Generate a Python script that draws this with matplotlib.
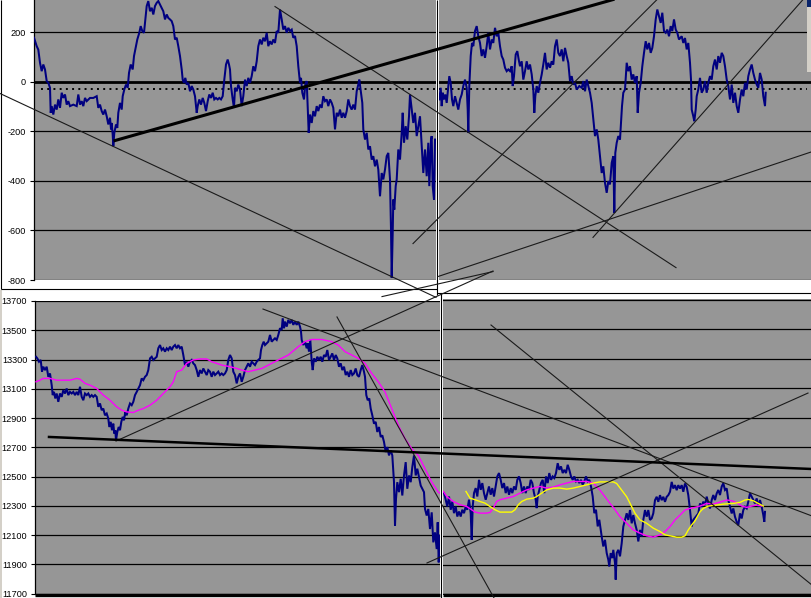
import matplotlib
matplotlib.use("Agg")
import matplotlib.pyplot as plt
from matplotlib.patches import Rectangle

plt.rcParams['font.family'] = ['Liberation Sans', 'DejaVu Sans']

W, H = 812, 598

# ------------------------------------------------------------------ data
# (time index, value) pairs
top_left = [
    (34.0,178),(36.7,144),(38.3,130),(40.0,77),(41.7,43),(43.3,70),(45.0,50),(46.7,3),(48.3,-4),(50.0,-24),
    (50.7,-125),(51.7,-98),(53.3,-132),(55.0,-92),(56.7,-112),(58.3,-71),(60.0,-105),(61.7,-44),(63.3,-65),(65.0,-51),
    (66.7,-92),(68.3,-78),(70.0,-98),(73.3,-92),(76.7,-98),(78.3,-51),(80.0,-92),(81.7,-78),(83.3,-98),(85.0,-65),
    (86.7,-78),(90.0,-65),(93.3,-65),(96.7,-58),(98.3,-105),(100.0,-92),(101.7,-118),(103.3,-132),(105.0,-112),(106.7,-139),
    (108.3,-172),(110.0,-145),(111.0,-192),(111.7,-166),(112.7,-213),(113.3,-260),(114.3,-206),(116.0,-172),(117.3,-186),(118.3,-125),
    (120.0,-85),(121.7,-112),(122.7,-58),(124.3,-31),(126.0,-11),(127.7,-24),(129.0,36),(130.7,70),(132.7,50),(134.0,104),
    (136.0,144),(137.3,171),(139.3,198),(140.7,225),(142.3,205),(144.0,198),(145.3,252),(146.7,306),(148.3,326),(150.0,285),
    (151.7,299),(153.3,272),(155.0,306),(156.7,319),(158.3,326),(160.0,312),(161.7,299),(163.3,285),(165.0,252),(166.7,272),
    (168.3,258),(170.0,252),(171.7,245),(173.3,225),(175.0,171),(176.7,178),(178.3,144),(180.0,104),(181.7,50),(182.7,9),
    (184.0,-4),(185.3,16),(186.7,-11),(188.3,-4),(190.0,-38),(191.7,-17),(193.3,-31),(195.0,-58),(196.7,-125),(197.7,-98),
    (199.3,-71),(201.0,-92),(202.7,-65),(204.3,-85),(206.0,-118),(207.7,-78),(209.3,-51),(211.0,-65),(212.7,-44),(214.3,-71),
    (216.0,-65),(217.7,-71),(219.3,-65),(221.0,-71),(222.7,-58),(224.3,9),(226.0,70),(227.7,90),(229.0,70),(230.0,50),
    (231.0,-17),(232.7,-71),(234.0,-105),
    (235.0,-24),(236.7,-38),(238.3,-11),(240.0,-31),(241.7,-98),(243.3,-58),(245.0,9),(246.7,-17),(248.3,16),(250.0,-4),
    (251.7,23),(253.3,63),(255.0,43),(256.7,83),(258.3,144),(260.0,171),(261.7,151),(263.3,178),(265.0,164),(266.7,198),
    (268.3,144),(270.0,164),(271.7,151),(273.3,171),(275.0,157),(276.7,205),(278.3,198),(280.0,292),(281.7,252),(283.3,211),
    (285.0,225),(286.7,198),(288.3,218),(290.0,205),(291.7,211),(293.3,178),(295.0,185),(296.7,144),(298.3,63),(300.0,-4),
    (301.0,16),(302.3,-44),(304.0,-71),(305.3,-11),(306.7,3),(307.7,-98),(308.7,-206),(310.0,-132),(311.7,-166),(313.3,-118),
    (315.0,-139),(316.7,-98),(318.3,-118),(320.0,-92),(321.7,-105),(323.3,-58),(325.0,-78),(326.7,-71),(328.3,-98),(330.0,-71),
    (331.7,-85),(333.3,-105),(335.0,-192),(336.7,-125),(338.3,-139),(340.0,-112),(341.7,-145),(343.3,-125),(345.0,-145),(346.7,-118),
    (348.3,-71),(350.0,-98),(351.7,-112),(353.3,-92),(355.0,-112),(356.7,-38),(358.3,-11),(359.3,9),(361.0,-44),(362.3,-85),
    (363.3,-192),(365.0,-233),(366.7,-206),(368.3,-273),(370.0,-260),(371.7,-314),(373.3,-300),(375.0,-341),(376.7,-314),(378.3,-354),
    (380.0,-462),(381.7,-368),(383.3,-394),(385.0,-354),(386.7,-300),(388.3,-287),(390.0,-394),(391.0,-596),(391.7,-791),(392.7,-610),
    (393.3,-475),(394.3,-516),(395.7,-421),(396.7,-394),(398.3,-273),(400.0,-314),(401.7,-206),(402.7,-125),(404.0,-246),(405.7,-179),
    (407.3,-233),(409.0,-139),(410.0,-51),(411.7,-112),(413.3,-166),(415.0,-125),(416.7,-219),(418.3,-179),(420.0,-139),(421.7,-260),
    (423.3,-368),(425.0,-273),(426.7,-381),(428.3,-246),(429.3,-421),(431.0,-233),(431.7,-219),(432.7,-421),(434.0,-475),(435.0,-233),
]

top_right = [
    (439.3,-71),(440.7,-24),(441.7,-98),(442.7,-44),(444.0,-71),(445.3,-51),(446.7,-85),(448.3,-17),(449.3,23),(450.7,-4),
    (452.0,-71),(453.3,-98),(455.0,-58),(456.7,-85),(458.3,-112),(460.0,-71),(461.7,-51),(463.3,-17),(465.0,9),(466.7,-24),
    (467.7,-112),(468.3,-206),(469.3,-17),(470.7,104),(472.0,157),(473.3,144),(475.0,205),(476.7,225),(478.3,184),(480.0,157),
    (481.7,104),(483.3,131),(485.0,97),(486.7,144),(488.3,198),(490.0,131),(491.7,171),(493.3,157),(495.0,218),(496.7,184),
    (498.3,198),(500.0,144),(501.7,104),(503.3,90),(505.0,57),(506.7,43),(508.3,50),(510.0,43),(511.7,63),(512.7,-17),
    (514.0,23),(515.7,110),(517.3,124),(518.7,90),(520.0,63),(521.7,83),(523.3,9),(525.0,43),(526.7,83),(528.3,50),
    (530.0,70),(531.7,30),(533.3,-31),(534.3,-125),(535.3,-58),(536.7,-17),(538.3,-44),(540.0,-4),(541.7,30),(543.3,70),
    (545.0,117),(546.7,50),(548.3,77),(550.0,57),(551.7,83),(553.3,70),(555.0,144),(556.7,171),(558.3,117),(560.0,104),
    (561.7,131),(563.3,83),(565.0,137),(566.7,104),(568.3,77),(570.0,3),(571.7,23),(573.3,-11),(575.0,-4),(576.7,-31),
    (579.3,-17),
    (581.7,-24),(583.3,3),(585.0,-38),(586.7,9),(588.3,-17),(590.0,-44),(591.7,-85),(592.7,-125),(594.0,-179),(595.0,-219),
    (596.7,-192),(598.3,-233),(600.0,-300),(601.7,-368),(603.3,-341),(605.0,-408),(606.7,-448),(608.3,-401),(610.0,-414),(611.7,-327),
    (613.3,-300),(614.3,-529),(615.3,-287),(616.7,-246),(618.3,-219),(620.0,-233),(621.0,-166),(622.0,-98),(623.3,-44),(625.0,-31),
    (626.7,77),(628.3,43),(630.0,63),(631.7,9),(633.3,30),(635.0,-4),(636.7,23),(637.7,-125),(639.0,-44),(640.7,-4),
    (642.3,63),(644.0,117),(645.7,164),(647.3,131),(649.0,157),(650.7,117),(652.3,137),(654.0,184),(655.7,252),(657.3,292),
    (659.0,265),(660.7,238),(662.3,279),(664.0,205),(665.7,198),(667.3,211),(669.0,184),(670.7,225),(672.3,205),(674.0,252),
    (675.7,211),(677.3,198),(679.0,171),
    (681.7,184),(683.3,157),(685.0,177),(686.7,131),(688.3,157),(690.0,77),(691.0,9),(691.7,-112),(693.3,-139),(694.3,-159),
    (695.7,-112),(696.7,-58),(698.3,-31),(700.0,16),(701.7,-44),(703.3,-31),(705.0,3),(706.7,-44),(708.3,-4),(710.0,23),
    (711.7,9),(713.3,63),(715.0,90),(716.7,50),(718.3,104),(720.0,77),(721.7,117),(723.3,104),(725.0,63),(726.7,9),
    (728.3,-17),(730.0,-71),(731.7,-11),(733.3,-85),(735.0,-44),(736.7,-98),(738.3,-125),(740.0,-71),(741.7,-31),(743.3,-58),
    (745.0,-4),(746.7,-31),(748.3,23),(750.0,50),(751.7,70),(753.3,36),(755.0,9),(756.7,-11),(758.3,-24),(760.0,36),
    (761.7,9),(763.3,-58),(765.0,-98),(765.7,-44),
]

bottom_left = [
    (36.0,13319),(37.3,13308),(39.0,13285),(40.7,13297),(42.0,13217),(43.3,13251),(45.0,13228),(46.7,13251),(48.3,13182),(50.0,13205),
    (51.7,13125),(52.7,13057),(54.0,13079),(55.3,13034),(56.7,13068),(58.3,13011),(60.0,13068),(61.7,13045),(63.3,13091),(65.0,13068),
    (66.7,13102),(68.3,13057),(70.0,13079),(71.7,13068),(73.3,13079),(75.0,13057),(76.7,13079),(78.3,13057),(80.0,13114),(81.7,13045),
    (83.3,13022),(85.0,13068),(86.7,13057),(88.3,13068),(90.0,13045),(91.7,13057),(93.3,13045),(95.0,13057),(96.7,13045),(98.3,12977),
    (100.0,13000),(101.7,12954),(103.3,12965),(105.0,12919),(106.7,12931),(108.3,12897),(109.3,12839),(110.7,12874),(112.0,12817),(113.3,12862),
    (114.3,12794),(115.3,12817),(116.0,12748),(117.3,12805),(118.7,12839),(120.0,12817),(121.3,12874),(122.7,12908),(124.0,12885),(125.3,12942),
    (126.7,12919),(128.3,12965),(130.0,13000),(131.7,12988),(133.3,13011),(135.0,13057),(136.7,13079),(138.3,13102),(140.0,13125),(141.7,13171),
    (143.3,13159),(145.0,13182),(146.7,13194),(148.3,13228),(150.0,13308),(151.7,13319),(153.3,13297),(155.0,13308),(156.7,13319),(158.3,13377),
    (160.0,13399),(161.7,13365),(163.3,13377),(165.0,13354),(166.7,13377),(168.3,13365),(170.0,13388),(171.7,13365),(173.3,13388),(175.0,13399),
    (176.7,13377),(178.3,13399),(180.0,13377),(181.7,13388),(183.3,13331),(185.0,13262),(186.7,13285),(188.3,13251),(190.0,13285),(191.7,13297),
    (193.3,13274),(195.0,13262),(196.7,13228),(198.3,13182),(200.0,13228),(201.7,13205),(203.3,13239),(205.0,13217),(206.7,13194),(208.3,13228),
    (210.0,13217),(211.7,13182),(213.3,13217),(215.0,13194),(216.7,13205),(218.3,13217),(220.0,13194),(221.7,13205),(223.3,13194),(225.0,13205),
    (226.7,13228),(228.3,13297),(230.0,13331),(231.7,13308),(233.3,13217),(235.0,13194),(236.7,13137),(238.3,13182),(240.0,13205),
    (241.7,13148),(243.3,13182),(245.0,13228),(246.7,13251),(248.3,13274),(250.0,13251),(251.7,13285),(253.3,13274),(255.0,13262),(256.7,13285),
    (258.3,13297),(260.0,13308),(261.0,13365),(262.3,13399),(263.7,13422),(265.0,13399),(266.7,13411),(268.3,13422),(270.0,13468),(271.7,13422),
    (273.3,13434),(275.0,13445),(276.7,13434),(278.3,13468),(280.0,13514),(281.7,13502),(282.7,13582),(284.0,13514),(285.0,13559),(286.7,13525),
    (288.3,13571),(290.0,13548),(291.7,13571),(293.3,13537),(295.0,13559),(296.7,13537),(298.3,13559),(300.0,13525),(301.0,13491),(301.7,13434),
    (303.3,13399),(305.0,13422),(306.7,13377),(307.7,13411),(309.0,13354),(310.3,13434),(311.7,13285),(312.7,13228),(314.0,13308),(315.7,13285),
    (317.3,13319),(319.0,13297),(320.7,13319),(322.3,13285),(324.0,13331),(325.7,13319),(327.3,13365),(329.0,13297),(330.7,13319),(332.3,13342),
    (334.0,13297),(335.7,13331),(337.3,13308),(339.0,13251),(340.7,13274),(342.3,13228),(344.0,13251),(345.7,13194),(347.3,13217),(349.0,13182),
    (350.7,13228),(352.3,13194),(354.0,13205),(355.7,13239),(357.3,13194),(359.0,13182),(360.7,13228),(362.3,13262),(364.0,13217),(365.0,13182),
    (366.3,13057),(367.7,13022),(369.3,13034),(370.7,12965),(372.3,12919),(374.0,12862),(375.7,12874),(377.3,12805),(379.0,12839),(380.7,12771),
    (382.3,12782),(384.0,12737),(385.7,12668),(387.3,12702),(389.0,12645),(390.7,12679),(392.3,12645),(394.0,12462),(395.0,12165),(396.0,12348),
    (397.3,12462),(399.0,12394),(400.7,12485),(402.3,12371),(404.0,12508),(405.7,12599),(407.3,12417),(409.0,12508),(410.7,12462),(412.3,12565),
    (414.0,12645),(415.7,12508),(417.3,12554),(419.0,12497),(420.7,12439),(422.3,12417),(424.0,12394),(425.0,12279),(426.7,12234),(428.3,12279),
    (430.0,12142),(431.7,12256),(433.3,12051),(435.0,12119),(436.7,12005),(437.7,12188),(438.7,11914),(439.7,12097),
]

bottom_left_avg = [
    (36.0,13148),(40.0,13159),(43.3,13171),(50.0,13171),(56.7,13159),(63.3,13159),(70.0,13159),(76.7,13171),(80.0,13166),(85.0,13137),
    (90.0,13125),(96.7,13102),(100.0,13079),(103.3,13057),(110.0,13022),(116.7,12977),(121.7,12954),(126.7,12942),(133.3,12938),(138.3,12954),
    (143.3,12965),(150.0,12988),(156.7,13022),(163.3,13068),(166.7,13091),(170.0,13114),(173.3,13148),(176.7,13217),(181.7,13228),(186.7,13274),
    (193.3,13297),(200.0,13304),(206.7,13304),(211.7,13285),(216.7,13274),(221.7,13262),(230.0,13251),(236.7,13239),(241.7,13228),(248.3,13217),
    (255.0,13228),(261.7,13239),(268.3,13262),(278.3,13297),(288.3,13331),(298.3,13388),(305.0,13422),(311.7,13437),(321.7,13437),(331.7,13422),
    (338.3,13399),(345.0,13354),(351.7,13331),(358.3,13308),(365.0,13274),(371.7,13205),(378.3,13148),(385.0,13079),(391.7,12965),(398.3,12851),
    (405.0,12760),(411.7,12691),(418.3,12645),(425.0,12554),(431.7,12462),(438.3,12394),(443.3,12371),
]

bottom_right = [
    (444.0,12388),(445.7,12343),(447.3,12297),(449.0,12365),(450.7,12275),(452.3,12331),(454.0,12252),(455.7,12297),(457.3,12229),(459.0,12263),
    (460.7,12229),(462.3,12275),(464.0,12252),(465.7,12297),(467.3,12275),(469.0,12343),(470.7,12252),(471.7,12071),(472.7,12297),(474.0,12388),
    (475.7,12422),(477.3,12365),(479.0,12478),(480.7,12410),(482.3,12456),(484.0,12388),(485.7,12343),(487.3,12388),(489.0,12433),(490.7,12377),
    (492.3,12422),(494.0,12365),(495.7,12433),(497.3,12501),(499.0,12524),(500.7,12478),(502.3,12422),(504.0,12456),(505.7,12388),(507.3,12433),
    (509.0,12377),(510.7,12422),(512.3,12388),(514.0,12433),(515.7,12410),(517.3,12478),(519.0,12501),(520.7,12456),(522.3,12388),(524.0,12433),
    (525.7,12388),(527.3,12433),(529.0,12410),(530.7,12478),(532.3,12456),(534.0,12388),(535.7,12343),(536.7,12286),(537.7,12365),(539.3,12410),
    (541.0,12456),(542.7,12478),(544.3,12388),(546.0,12501),(547.7,12456),(549.3,12524),(551.0,12478),(552.7,12501),(554.3,12490),(556.0,12524),
    (557.7,12591),(559.3,12546),(561.0,12569),(562.7,12524),(564.3,12546),(566.0,12524),(567.7,12580),(569.3,12546),(571.0,12501),(572.7,12478),
    (574.3,12501),(576.0,12467),(577.7,12478),(579.3,12456),(581.0,12478),(582.7,12444),(584.3,12467),(586.0,12501),(587.7,12467),(589.3,12478),
    (591.0,12433),(592.7,12365),(594.3,12252),(596.0,12275),(597.7,12162),(599.3,12207),
    (601.7,12093),(603.3,12026),(605.0,12071),(606.7,11981),(608.3,11936),(609.3,11891),(610.7,11981),(612.3,11947),(613.3,12003),(615.0,11914),
    (615.7,11801),(616.7,11981),(618.3,12003),(620.0,11959),(621.7,12048),(623.3,12161),(625.0,12206),(626.7,12251),(628.3,12206),(630.0,12273),
    (631.7,12183),(633.3,12239),(635.0,12183),(636.7,12138),(638.3,12060),(640.0,12138),(641.7,12093),(643.3,12206),(645.0,12273),(646.7,12228),
    (648.3,12273),(650.0,12206),(651.7,12217),(653.3,12251),(655.0,12340),(656.7,12363),(658.3,12329),(660.0,12374),(661.7,12340),(663.3,12363),
    (665.0,12329),(666.7,12363),(668.3,12374),(670.0,12397),(671.7,12464),(673.3,12419),(675.0,12442),(676.7,12408),(678.3,12442),(680.0,12419),
    (681.7,12442),(683.3,12397),(685.0,12453),(686.7,12430),(688.3,12374),(690.0,12273),(691.7,12161),(693.3,12206),
    (698.3,12250),(700.0,12318),(701.7,12295),(703.3,12330),(705.0,12307),(706.7,12364),(708.3,12318),(710.0,12284),(711.7,12341),(713.3,12375),
    (715.0,12341),(716.7,12386),(718.3,12409),(720.0,12375),(721.7,12432),(723.3,12455),(725.0,12409),(726.7,12420),(728.3,12341),(730.0,12295),
    (731.7,12250),(733.3,12284),(735.0,12227),(736.7,12193),(738.3,12170),(740.0,12250),(741.7,12216),(743.3,12273),(745.0,12295),(746.7,12284),
    (748.3,12330),(750.0,12386),(751.7,12364),(753.3,12341),(755.0,12318),(756.7,12352),(758.3,12295),(760.0,12341),(761.7,12295),(763.3,12239),
    (764.3,12193),(765.0,12261),
]

bottom_right_avg = [
    (443.3,12399),(446.7,12365),(453.3,12331),(460.0,12309),(466.7,12297),(471.7,12275),(475.0,12259),(480.0,12252),(486.7,12252),(490.0,12257),
    (493.3,12286),(496.7,12331),(500.0,12343),(506.7,12354),(513.3,12365),(520.0,12388),(526.7,12410),(533.3,12422),(540.0,12433),(546.7,12422),
    (553.3,12429),(560.0,12444),(566.7,12456),(573.3,12467),(580.0,12467),(586.7,12467),(593.3,12456),(600.0,12408),(605.0,12363),(610.0,12318),
    (613.3,12291),(620.0,12228),(626.7,12183),(633.3,12138),(640.0,12116),(646.7,12098),(653.3,12089),(660.0,12105),(665.0,12127),(670.0,12161),
    (675.0,12206),(680.0,12239),(685.0,12273),(690.0,12284),(695.0,12291),(700.0,12300),(706.7,12318),(713.3,12314),(720.0,12327),(726.7,12341),
    (731.7,12336),(736.7,12323),(741.7,12300),(746.7,12291),(751.7,12300),(756.7,12307),(761.7,12300),
]

bottom_right_avg2 = [
    (466.0,12399),(470.0,12354),(475.0,12343),(480.0,12331),(485.0,12320),(490.0,12297),(495.0,12275),(500.0,12259),(506.7,12259),(511.7,12259),
    (515.0,12275),(518.3,12309),(521.7,12331),(526.7,12347),(533.3,12354),(536.7,12365),(541.7,12388),(546.7,12410),(553.3,12422),(560.0,12422),
    (566.7,12415),(573.3,12422),(580.0,12433),(586.7,12444),(593.3,12456),(600.0,12464),(606.7,12464),(613.3,12464),(616.7,12453),(621.7,12408),
    (626.7,12363),(631.7,12296),(635.0,12251),(640.0,12206),(646.7,12183),(653.3,12150),(660.0,12127),(665.0,12105),(670.0,12098),(676.7,12089),
    (681.7,12089),(685.0,12098),(688.3,12138),(691.7,12172),(695.0,12200),(700.0,12261),(703.3,12284),(708.3,12300),(716.7,12307),(725.0,12314),
    (733.3,12318),(740.0,12325),(745.0,12341),(748.3,12345),(753.3,12336),(758.3,12318),(763.3,12300),
]

top_ticks = [-800, -600, -400, -200, 0, 200]
top_tick_labels = ['-800', '-600', '-400', '-200', '0', '200']
bottom_ticks = [11700, 11900, 12100, 12300, 12500, 12700, 12900, 13100, 13300, 13500, 13700]
bottom_tick_labels = [str(v) for v in bottom_ticks]

top_ref_level = -27
top_ref_span_left = (41, 436)
top_ref_span_right = (439, 807)

# trend lines: ((time, value), (time, value)) in the top / bottom value scales
top_trends_thin = [
    ((0, -47), (436, -870)),
    ((275, 304), (676, -750)),
    ((413, -653), (657, 332)),
    ((593, -628), (803, 332)),
    ((382, -867), (493, -766)),
    ((438, -786), (812, -282)),
]
top_trends_thick = [((115, -237), (613, 332))]
bottom_trends_thin = [
    ((116, 12743), (493, 13905)),
    ((263, 13645), (812, 12231)),
    ((337, 13591), (494, 11671)),
    ((427, 11910), (808, 13071)),
    ((491, 13536), (812, 11759)),
]
bottom_trends_thick = [((49, 12771), (812, 12552))]

# ------------------------------------------------------------------ style
GREY = '#969696'
NAVY = '#000080'
MAGENTA = '#ff00ff'
YELLOW = '#ffff00'
LINE = '#1a1a1a'

fig = plt.figure(figsize=(W / 100, H / 100), dpi=100)
fig.patch.set_facecolor('white')


def px_axes(x0, y0, x1, y1, z=1):
    return fig.add_axes([x0 / W, 1 - y1 / H, (x1 - x0) / W, (y1 - y0) / H], zorder=z)


def style_panel(ax, xlim, ylim, ticks, labels, show_axis, zero_line=None):
    ax.set_facecolor(GREY)
    ax.set_xlim(*xlim)
    ax.set_ylim(*ylim)
    for s in ax.spines.values():
        s.set_visible(False)
    ax.set_xticks([])
    for t in ticks:
        lw = 2.0 if (zero_line is not None and t == zero_line) else 0.9
        ax.axhline(t, color='black', lw=lw, zorder=1)
    if show_axis:
        ax.spines['left'].set_visible(True)
        ax.spines['left'].set_color('black')
        ax.spines['left'].set_linewidth(0.9)
        ax.set_yticks(ticks)
        ax.set_yticklabels(labels)
        ax.tick_params(axis='y', direction='out', length=2.6, width=0.8,
                       pad=3.2, labelsize=6.6, colors='black')
    else:
        ax.set_yticks([])


def draw(ax, pts, color, lw):
    xs = [p[0] for p in pts]
    ys = [p[1] for p in pts]
    ax.plot(xs, ys, color=color, lw=lw, zorder=3, solid_joinstyle='miter')


ax_tl = px_axes(34, 0, 436.5, 280)
ax_tr = px_axes(439.3, 0, 812, 280)
ax_bl = px_axes(35.3, 301, 440, 593.7)
ax_br = px_axes(443.3, 299, 812, 594.5)

top_ylim = (-800, 330.4)
style_panel(ax_tl, (34, 436.5), top_ylim, top_ticks, top_tick_labels, True, zero_line=0)
style_panel(ax_tr, (439.3, 812), top_ylim, top_ticks, top_tick_labels, False, zero_line=0)
style_panel(ax_bl, (35.3, 440), (11700, 13700), bottom_ticks, bottom_tick_labels, True)
style_panel(ax_br, (443.3, 812), (11700, 13705), bottom_ticks, bottom_tick_labels, False)

for ax, span in ((ax_tl, top_ref_span_left), (ax_tr, top_ref_span_right)):
    ax.plot(span, [top_ref_level, top_ref_level], color='black', lw=1.4,
            linestyle=(0, (1, 2.2)), zorder=2)

draw(ax_tl, top_left, NAVY, 1.45)
draw(ax_tr, top_right, NAVY, 1.45)
draw(ax_bl, bottom_left, NAVY, 1.45)
draw(ax_bl, bottom_left_avg, MAGENTA, 1.0)
draw(ax_br, bottom_right, NAVY, 1.45)
draw(ax_br, bottom_right_avg, MAGENTA, 1.0)
draw(ax_br, bottom_right_avg2, YELLOW, 1.0)

# ------------------------------------------------------------------ overlay (window frames + trend lines)
ax_o = fig.add_axes([0, 0, 1, 1], zorder=20)
ax_o.patch.set_alpha(0)
ax_o.axis('off')

frame = dict(color='black', lw=0.8, solid_capstyle='butt')
ax_o.plot([1, 1], [0, 289], **frame)
ax_o.plot([1, 437], [289, 289], **frame)
ax_o.plot([437, 437], [0, 295], **frame)
ax_o.plot([437, 812], [292.7, 292.7], **frame)
ax_o.plot([440.7, 440.7], [292.7, 598], **frame)
ax_o.plot([35, 440], [595, 595], color='black', lw=2.4, solid_capstyle='butt')
ax_o.plot([443, 812], [595, 595], color='black', lw=2.4, solid_capstyle='butt')
ax_o.add_patch(Rectangle((0, 290), 2, 308, color='#d4d0c8', lw=0))
ax_o.add_patch(Rectangle((807, 0), 5, 7, color='#0a246a', lw=0))
ax_o.add_patch(Rectangle((807, 7), 5, 65, color='#d4d0c8', lw=0))

for (a, b) in top_trends_thin:
    ax_o.plot([a[0], b[0]], [a[1], b[1]], color=LINE, lw=0.8,
              transform=ax_tl.transData, clip_on=False)
for (a, b) in top_trends_thick:
    ax_o.plot([a[0], b[0]], [a[1], b[1]], color='black', lw=2.2,
              transform=ax_tl.transData, clip_on=False)
for (a, b) in bottom_trends_thin:
    ax_o.plot([a[0], b[0]], [a[1], b[1]], color=LINE, lw=0.8,
              transform=ax_bl.transData, clip_on=False)
for (a, b) in bottom_trends_thick:
    ax_o.plot([a[0], b[0]], [a[1], b[1]], color='black', lw=1.8,
              transform=ax_bl.transData, clip_on=False)

ax_o.set_xlim(0, W)
ax_o.set_ylim(H, 0)

fig.savefig('out.png', dpi=100, facecolor='white')
